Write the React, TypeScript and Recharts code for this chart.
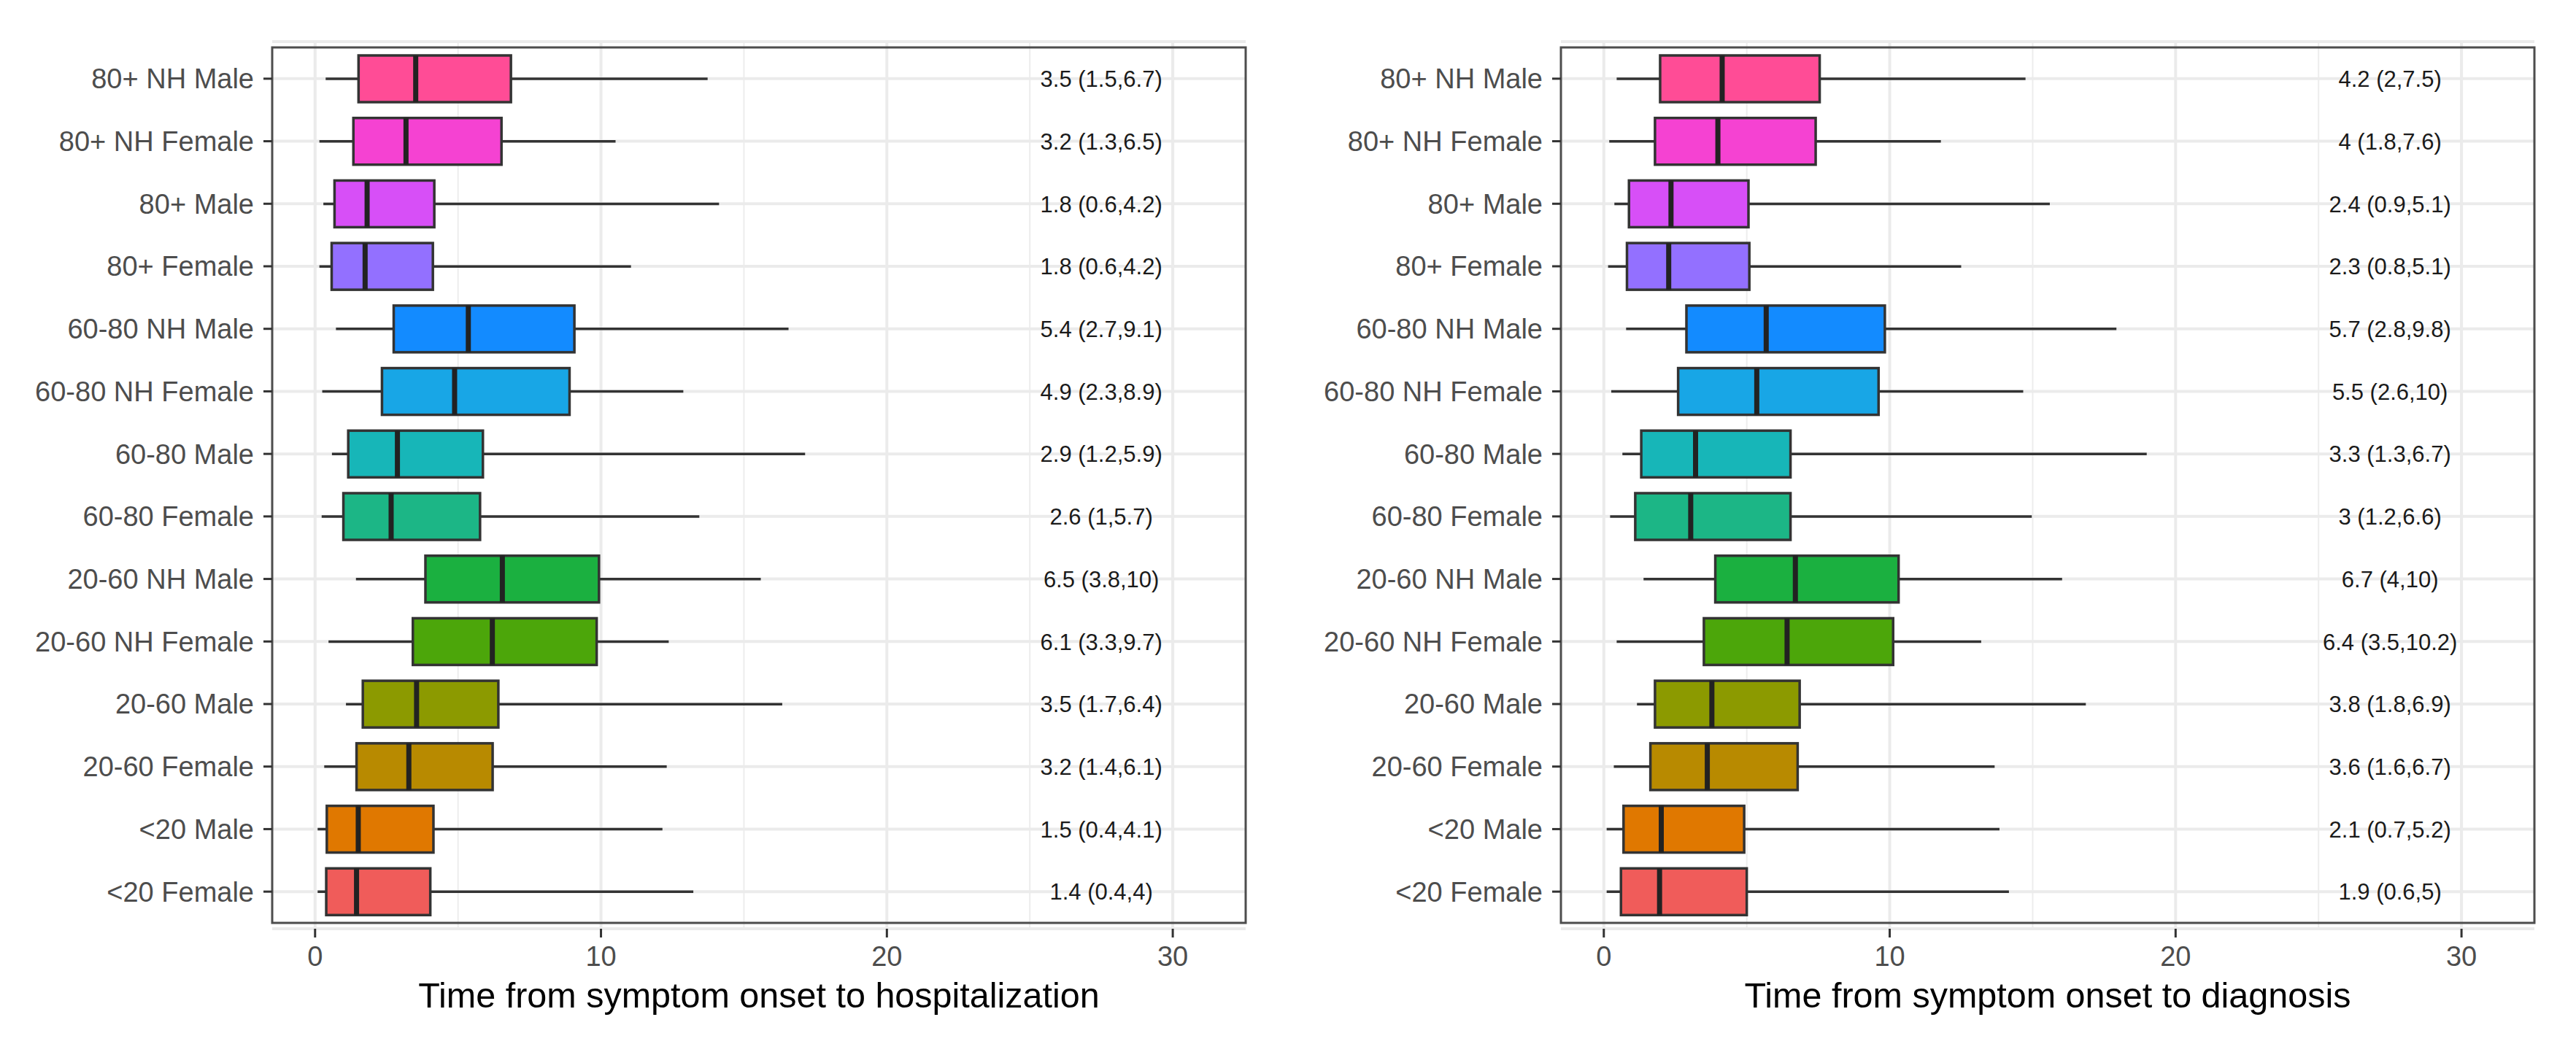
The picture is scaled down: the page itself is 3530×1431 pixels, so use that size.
import React from 'react';
import { Bar, CartesianGrid, Cell, ComposedChart, ReferenceArea, XAxis, YAxis } from 'recharts';

// categories, top to bottom
const groups = [
  '80+ NH Male', '80+ NH Female', '80+ Male', '80+ Female',
  '60-80 NH Male', '60-80 NH Female', '60-80 Male', '60-80 Female',
  '20-60 NH Male', '20-60 NH Female', '20-60 Male', '20-60 Female',
  '<20 Male', '<20 Female',
];

// symptom onset -> hospitalization (days)
const hospLow = [0.37, 0.15, 0.29, 0.15, 0.73, 0.25, 0.59, 0.23, 1.43, 0.47, 1.08, 0.32, 0.09, 0.09];
const hospQ1 = [1.52, 1.34, 0.68, 0.58, 2.75, 2.34, 1.16, 0.99, 3.86, 3.42, 1.67, 1.45, 0.41, 0.39];
const hospMedian = [3.52, 3.18, 1.82, 1.75, 5.36, 4.88, 2.88, 2.66, 6.55, 6.2, 3.55, 3.28, 1.51, 1.45];
const hospQ3 = [6.85, 6.52, 4.17, 4.12, 9.07, 8.9, 5.87, 5.77, 9.93, 9.85, 6.41, 6.21, 4.14, 4.03];
const hospHigh = [13.73, 10.51, 14.13, 11.05, 16.56, 12.88, 17.14, 13.44, 15.59, 12.37, 16.34, 12.3, 12.15, 13.23];
const hospLabels = [
  '3.5 (1.5,6.7)', '3.2 (1.3,6.5)', '1.8 (0.6,4.2)', '1.8 (0.6,4.2)',
  '5.4 (2.7,9.1)', '4.9 (2.3,8.9)', '2.9 (1.2,5.9)', '2.6 (1,5.7)',
  '6.5 (3.8,10)', '6.1 (3.3,9.7)', '3.5 (1.7,6.4)', '3.2 (1.4,6.1)',
  '1.5 (0.4,4.1)', '1.4 (0.4,4)',
];

// symptom onset -> diagnosis (days)
const diagLow = [0.45, 0.19, 0.37, 0.15, 0.78, 0.26, 0.65, 0.22, 1.39, 0.45, 1.16, 0.35, 0.1, 0.1];
const diagQ1 = [1.97, 1.79, 0.88, 0.81, 2.89, 2.6, 1.31, 1.1, 3.9, 3.5, 1.79, 1.63, 0.69, 0.6];
const diagMedian = [4.14, 3.99, 2.35, 2.27, 5.68, 5.35, 3.21, 3.04, 6.7, 6.41, 3.78, 3.62, 2.01, 1.95];
const diagQ3 = [7.55, 7.41, 5.06, 5.09, 9.83, 9.61, 6.53, 6.53, 10.31, 10.12, 6.85, 6.78, 4.91, 5.0];
const diagHigh = [14.75, 11.79, 15.6, 12.5, 17.93, 14.67, 18.99, 14.97, 16.03, 13.2, 16.86, 13.67, 13.84, 14.17];
const diagLabels = [
  '4.2 (2,7.5)', '4 (1.8,7.6)', '2.4 (0.9,5.1)', '2.3 (0.8,5.1)',
  '5.7 (2.8,9.8)', '5.5 (2.6,10)', '3.3 (1.3,6.7)', '3 (1.2,6.6)',
  '6.7 (4,10)', '6.4 (3.5,10.2)', '3.8 (1.8,6.9)', '3.6 (1.6,6.7)',
  '2.1 (0.7,5.2)', '1.9 (0.6,5)',
];

const majorTicks = [0, 10, 20, 30];
const minorTicks = [5, 15, 25];

const BOX_COLORS = [
  '#FF4C96', '#F542D2', '#D74FF7', '#9370FF',
  '#138BFF', '#18A6E6', '#17B6B8', '#1CB686',
  '#1BB040', '#4CA60A', '#8C9A00', '#B88A00',
  '#E07800', '#F05C5A',
];

const X_DOMAIN: [number, number] = [-1.5, 32.55];
const LABEL_X = 27.5;
const FONT = '"Liberation Sans", Arial, Helvetica, sans-serif';
const INK = '#333333';

const buildRows = (low, q1, median, q3, high, labels) =>
  groups.map((group, i) => ({
    group,
    low: low[i],
    q1: q1[i],
    median: median[i],
    q3: q3[i],
    high: high[i],
    label: labels[i],
  }));

const hospRows = buildRows(hospLow, hospQ1, hospMedian, hospQ3, hospHigh, hospLabels);
const diagRows = buildRows(diagLow, diagQ1, diagMedian, diagQ3, diagHigh, diagLabels);

// Bar spans low..high; box, median and label are placed along the same scale.
const BoxShape = (props: any) => {
  const { x, y, width, height, payload, fill } = props;
  const { low, q1, median, q3, high, label } = payload;
  const k = width / (high - low);
  const px = (v: number) => x + (v - low) * k;
  const cy = y + height / 2;
  return (
    <g>
      <line x1={x} x2={x + width} y1={cy} y2={cy} stroke={INK} strokeWidth={3.5} />
      <rect x={px(q1)} y={y} width={px(q3) - px(q1)} height={height} fill={fill} stroke={INK} strokeWidth={3.5} />
      <line x1={px(median)} x2={px(median)} y1={y} y2={y + height} stroke="#222222" strokeWidth={7} />
      <text
        x={px(LABEL_X)}
        y={cy}
        dy="0.36em"
        textAnchor="middle"
        fontSize={31}
        fontFamily={FONT}
        fill="#1a1a1a"
      >
        {label}
      </text>
    </g>
  );
};

const Panel = ({ rows, title, left }: { rows: any[]; title: string; left: number }) => (
  <div style={{ position: 'absolute', left, top: 0 }}>
    <ComposedChart
      width={1765}
      height={1431}
      data={rows}
      layout="vertical"
      margin={{ top: 57, right: 58, bottom: 0, left: 0 }}
    >
      <CartesianGrid horizontal={false} verticalValues={minorTicks} stroke="#ededed" strokeWidth={2} />
      <CartesianGrid verticalValues={majorTicks} stroke="#ebebeb" strokeWidth={4} />
      <XAxis
        type="number"
        domain={X_DOMAIN}
        ticks={majorTicks}
        allowDataOverflow
        axisLine={false}
        height={158}
        tickSize={12}
        tickMargin={12}
        tickLine={{ stroke: INK, strokeWidth: 3 }}
        tick={{ fontSize: 38, fill: '#4d4d4d', fontFamily: FONT }}
        label={{ value: title, position: 'insideBottom', offset: 50, fontSize: 48.5, fill: '#000', fontFamily: FONT }}
      />
      <YAxis
        type="category"
        dataKey="group"
        width={373}
        interval={0}
        padding={{ top: 8, bottom: 8 }}
        axisLine={false}
        tickSize={12}
        tickMargin={13}
        tickLine={{ stroke: INK, strokeWidth: 3 }}
        tick={{ fontSize: 38, fill: '#4d4d4d', fontFamily: FONT }}
      />
      <Bar dataKey={(d: any) => [d.low, d.high]} barSize={64} shape={BoxShape} isAnimationActive={false}>
        {rows.map((r, i) => (
          <Cell key={r.group} fill={BOX_COLORS[i]} />
        ))}
      </Bar>
      <ReferenceArea x1={X_DOMAIN[0]} x2={X_DOMAIN[1]} fill="none" fillOpacity={0} stroke="#4d4d4d" strokeWidth={3} />
    </ComposedChart>
  </div>
);

export default function App() {
  return (
    <div style={{ position: 'absolute', left: 0, top: 0, width: 3530, height: 1431, background: '#fff' }}>
      <Panel rows={hospRows} title="Time from symptom onset to hospitalization" left={0} />
      <Panel rows={diagRows} title="Time from symptom onset to diagnosis" left={1766} />
    </div>
  );
}
